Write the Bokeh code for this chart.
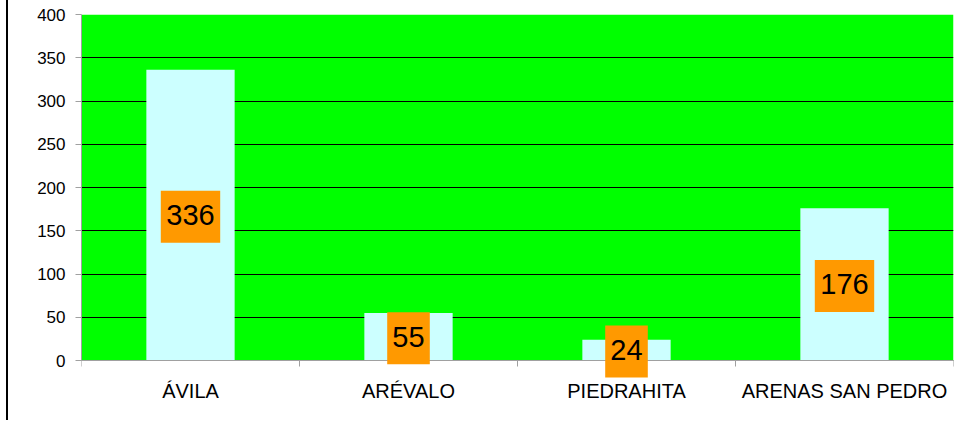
from bokeh.plotting import figure
from bokeh.models import ColumnDataSource, FixedTicker, Range1d, Spacer, LabelSet, BoxAnnotation, Span
from bokeh.layouts import row
from bokeh.core.properties import value
from bokeh.embed import file_html
from bokeh.resources import INLINE

categories = ["ÁVILA", "ARÉVALO", "PIEDRAHITA", "ARENAS SAN PEDRO"]
values = [336, 55, 24, 176]
y_ticks = [0, 50, 100, 150, 200, 250, 300, 350, 400]

# layout constants (pixels)
W, H = 950, 420
BL, BR, BT, BB = 73, 5, 14, 8
ZERO_PX = 346          # distance from frame top to the zero line
frame_w = W - BL - BR
frame_h = H - BT - BB
n = len(categories)
ymax = 400
px_x = n / frame_w
px_y = ymax / ZERO_PX
ymin = -(frame_h - ZERO_PX) * px_y

xs = [i + 0.5 for i in range(n)]
src = ColumnDataSource(dict(
    x=xs, top=values, mid=[v / 2 for v in values], lab=[str(v) for v in values]
))

p = figure(width=W, height=H, output_backend="svg", toolbar_location=None,
           x_range=Range1d(0, n), y_range=Range1d(ymin, ymax),
           min_border_left=BL, min_border_right=BR, min_border_top=BT, min_border_bottom=BB)

p.background_fill_color = "white"
p.border_fill_color = "white"
p.outline_line_color = None

# green plot area above the zero line (drawn beneath the grid)
p.add_layout(BoxAnnotation(bottom=0, fill_color="#00FF00", fill_alpha=1, line_color=None,
                           level="image"))

p.vbar(x="x", top="top", width=0.405, bottom=0, source=src,
       fill_color="#CCFFFF", line_color=None)

# x axis line and boundary ticks
p.add_layout(Span(location=0, dimension="width", line_color="#A0A0A0", line_width=1))
p.segment(x0=list(range(n + 1)), y0=[0] * (n + 1), x1=list(range(n + 1)),
          y1=[-6 * px_y] * (n + 1), line_color="#A0A0A0", line_width=1)

# category labels
p.text(x=xs, y=[-19 * px_y] * n, text=categories, text_align="center", text_baseline="top",
       text_font=value("Liberation Sans"), text_font_size="20px", text_color="black")

# orange label boxes
for x, m, t in zip(src.data["x"], src.data["mid"], src.data["lab"]):
    hw = (8.4 * len(t) + 4.5) * px_x
    hh = 26 * px_y
    p.add_layout(BoxAnnotation(left=x - hw, right=x + hw, bottom=m - hh - 1.5 * px_y,
                               top=m + hh - 1.5 * px_y,
                               fill_color="#FF9900", fill_alpha=1, line_color=None,
                               level="annotation"))

p.add_layout(LabelSet(x="x", y="mid", text="lab", source=src,
                      text_align="center", text_baseline="middle",
                      text_font=value("Liberation Sans"), text_font_size="29px",
                      text_color="black", level="annotation"))

# y axis
p.yaxis.ticker = FixedTicker(ticks=y_ticks)
p.yaxis.bounds = (0, ymax)
p.yaxis.axis_line_color = "#A0A0A0"
p.yaxis.major_tick_line_color = "#A0A0A0"
p.yaxis.major_tick_in = 0
p.yaxis.major_tick_out = 6
p.yaxis.minor_tick_line_color = None
p.yaxis.major_label_standoff = 10
p.yaxis.major_label_text_font = "Liberation Sans"
p.yaxis.major_label_text_font_size = "17px"
p.yaxis.major_label_text_color = "black"

p.xaxis.visible = False
p.xgrid.grid_line_color = None
p.ygrid.ticker = FixedTicker(ticks=y_ticks)
p.ygrid.grid_line_color = "black"
p.ygrid.grid_line_width = 1

gap = Spacer(width=6, height=H)
bar = Spacer(width=2, height=H, styles={"background-color": "black"})
layout = row(gap, bar, p, spacing=0)

open("out.html", "w").write(file_html(layout, INLINE))
